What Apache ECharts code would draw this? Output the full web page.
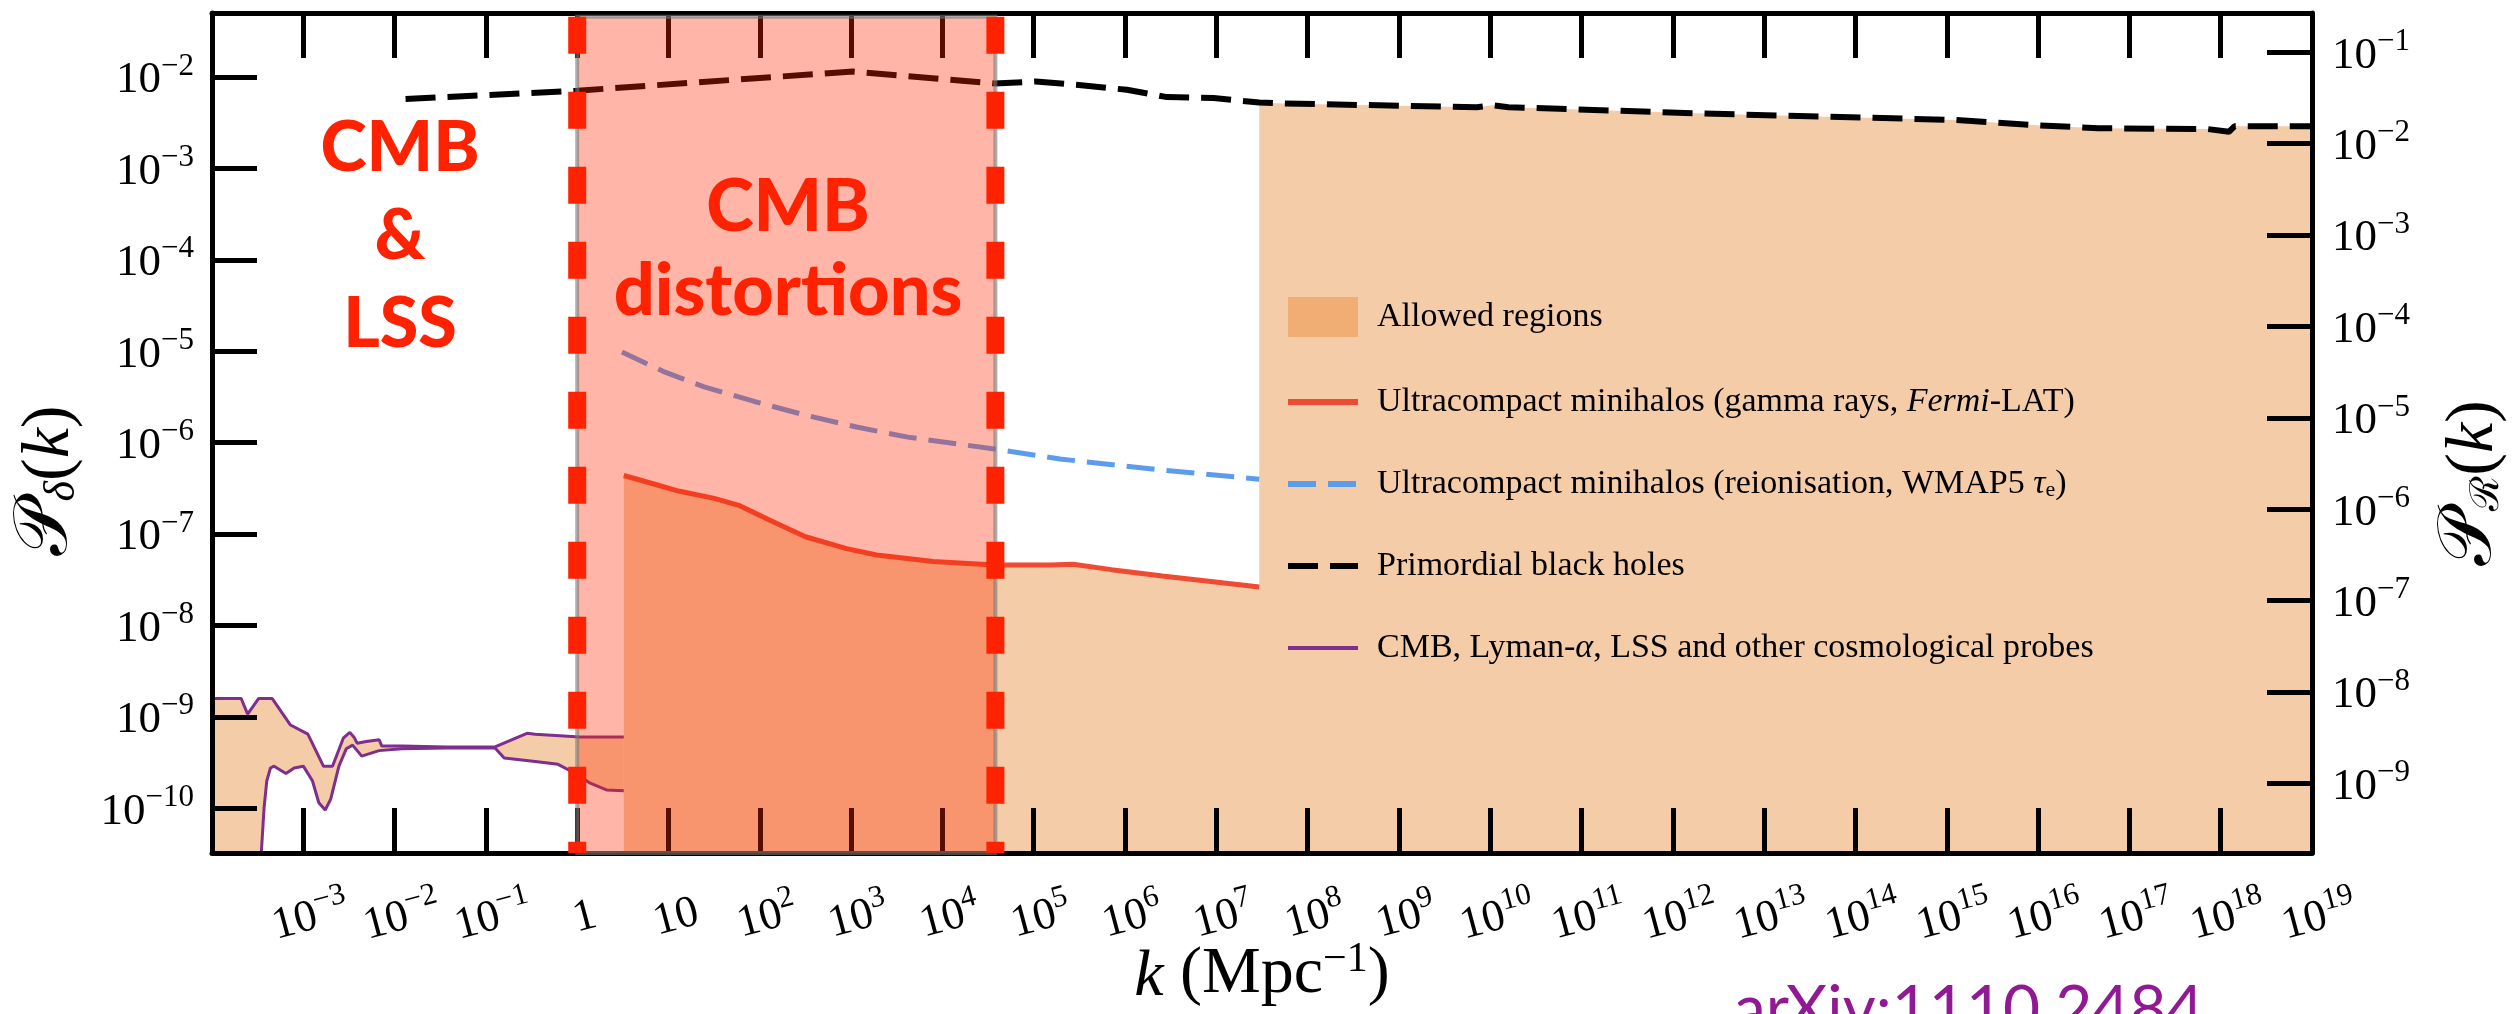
<!DOCTYPE html>
<html>
<head>
<meta charset="utf-8">
<title>Primordial power spectrum constraints</title>
<script src="https://cdn.jsdelivr.net/npm/echarts@6/dist/echarts.min.js"></script>
<style>
html, body { margin: 0; padding: 0; background: #fff; }
#main { width: 2519px; height: 1014px; }
</style>
</head>
<body>
<div id="main"></div>
<script>
var chart = echarts.init(document.getElementById('main'));

// every value below is a log10: x = log10(k / Mpc^-1), y = log10(P_delta(k))
var X_MIN = -4, X_MAX = 19;
var Y_MIN = -10.49, Y_MAX = -1.30;
var R_SHIFT = 0.73; // right axis P_R sits this many decades above P_delta

// CMB, Lyman-alpha, LSS ... (upper and lower bounds)
var cmbUpperX = [-4, -3.68, -3.61, -3.49, -3.34, -3.14, -2.95, -2.78, -2.68, -2.56, -2.49, -2.44, -2.41, -2.31, -2.17, -2.14, -1.92, -1.43, -0.90, -0.55, -0.46, 0.03, 0.51];
var cmbUpperY = [-8.80, -8.80, -8.97, -8.80, -8.80, -9.09, -9.19, -9.54, -9.54, -9.23, -9.17, -9.23, -9.29, -9.27, -9.25, -9.32, -9.32, -9.33, -9.33, -9.18, -9.19, -9.22, -9.22];
var cmbLowerX = [-3.46, -3.43, -3.40, -3.36, -3.32, -3.19, -3.10, -3.00, -2.90, -2.83, -2.76, -2.70, -2.61, -2.53, -2.46, -2.36, -2.17, -1.92, -1.43, -0.90, -0.80, -0.46, -0.21, -0.02, 0.13, 0.32, 0.51];
var cmbLowerY = [-10.49, -10.0, -9.70, -9.56, -9.54, -9.62, -9.56, -9.54, -9.70, -9.94, -10.02, -9.90, -9.54, -9.35, -9.31, -9.43, -9.37, -9.35, -9.34, -9.34, -9.45, -9.49, -9.52, -9.62, -9.72, -9.80, -9.81];

// Ultracompact minihalos, gamma rays (Fermi-LAT)
var gammaX = [0.51, 0.83, 1.11, 1.50, 1.78, 2.11, 2.50, 2.95, 3.28, 3.90, 4.57, 5.18, 5.43, 5.85, 6.41, 7.47];
var gammaY = [-6.36, -6.45, -6.53, -6.61, -6.69, -6.85, -7.03, -7.16, -7.23, -7.30, -7.34, -7.34, -7.33, -7.39, -7.46, -7.58];

// Ultracompact minihalos, reionisation (WMAP5)
var reionX = [0.49, 0.94, 1.39, 1.94, 2.50, 3.06, 3.62, 4.57, 5.29, 6.41, 7.47];
var reionY = [-5.01, -5.22, -5.39, -5.55, -5.70, -5.83, -5.94, -6.07, -6.18, -6.30, -6.40];

// Primordial black holes
var pbhX = [-1.88, 0, 3.02, 4.57, 5.02, 5.52, 6.02, 6.46, 6.97, 7.47, 7.73, 9.85, 10.03, 10.2, 12.33, 15.1, 16.02, 16.66, 17.86, 18.09, 18.15, 19];
var pbhY = [-2.24, -2.15, -1.94, -2.07, -2.05, -2.09, -2.14, -2.22, -2.23, -2.28, -2.29, -2.33, -2.31, -2.33, -2.40, -2.47, -2.53, -2.56, -2.57, -2.60, -2.54, -2.54];

// CMB distortions band
var bandX = [0, 4.58];
var BAND_TOP = -1.34;

var decadeTicks = [-10, -9, -8, -7, -6, -5, -4, -3, -2];
var decadeTicksR = [-9, -8, -7, -6, -5, -4, -3, -2, -1];

function pairs(xs, ys) {
    return xs.map(function (x, i) { return [x, ys[i]]; });
}

// allowed regions as polygons
var cmbShape = pairs(cmbUpperX, cmbUpperY)
    .concat(pairs(cmbLowerX, cmbLowerY).reverse())
    .concat([[cmbUpperX[0], Y_MIN]]);
var smallScaleShape = pairs(gammaX, gammaY)
    .concat(pairs(pbhX, pbhY).filter(function (p) { return p[0] >= gammaX[gammaX.length - 1]; }))
    .concat([[X_MAX, Y_MIN], [gammaX[0], Y_MIN]]);
var allowedShapes = [cmbShape, smallScaleShape];

function powLabel(v) {
    var n = Math.round(v);
    if (n === 0) return '{b|1}';
    if (n === 1) return '{b|10}';
    return '{b|10}{s|' + (n < 0 ? '\u2212' + (-n) : n) + '}';
}

var SERIF = 'Liberation Serif';
var tickRich = {
    b: { fontSize: 45, fontFamily: SERIF, color: '#000', lineHeight: 52, verticalAlign: 'bottom' },
    s: { fontSize: 31, fontFamily: SERIF, color: '#000', lineHeight: 30, verticalAlign: 'top' }
};

var legendNames = {
    'Ultracompact minihalos (gamma rays, Fermi-LAT)': 'Ultracompact minihalos (gamma rays, {i|Fermi}-LAT)',
    'Ultracompact minihalos (reionisation, WMAP5 \u03c4e)': 'Ultracompact minihalos (reionisation, WMAP5 {i|\u03c4}{sub|e})',
    'CMB, Lyman-\u03b1, LSS and other cosmological probes': 'CMB, Lyman-{i|\u03b1}, LSS and other cosmological probes'
};

var axisLineStyle = { color: '#000', width: 5 };
var tickStyle = { show: true, inside: true, length: 45, lineStyle: { color: '#000', width: 5 } };

var nameRich = {
    p: { fontFamily: 'DejaVu Serif', fontSize: 76, color: '#000', lineHeight: 84, verticalAlign: 'bottom' },
    sub: { fontFamily: SERIF, fontSize: 44, fontStyle: 'italic', color: '#000', lineHeight: 40, verticalAlign: 'bottom' },
    subR: { fontFamily: 'DejaVu Serif', fontSize: 40, color: '#000', lineHeight: 40, verticalAlign: 'bottom' },
    n: { fontFamily: SERIF, fontSize: 68, color: '#000', lineHeight: 84, verticalAlign: 'bottom' },
    i: { fontFamily: SERIF, fontSize: 68, fontStyle: 'italic', color: '#000', lineHeight: 84, verticalAlign: 'bottom' }
};

var option = {
    animation: false,
    backgroundColor: '#fff',
    grid: { left: 212, right: 207, top: 13, bottom: 161, containLabel: false, outerBoundsMode: 'none' },
    xAxis: [{
        type: 'value',
        position: 'bottom',
        min: X_MIN,
        max: X_MAX,
        interval: 1,
        z: 3,
        axisLine: { show: true, onZero: false, lineStyle: axisLineStyle },
        axisTick: tickStyle,
        splitLine: { show: false },
        axisLabel: {
            interval: 0,
            hideOverlap: false,
            rotate: 15,
            align: 'center',
            verticalAlign: 'top',
            margin: 36,
            formatter: function (v) { return v === X_MIN ? '' : powLabel(v); },
            rich: tickRich
        },
        name: '{i|k} (Mpc{s|\u22121})',
        nameLocation: 'middle',
        nameMoveOverlap: false,
        nameGap: 86,
        nameTextStyle: {
            fontFamily: SERIF, fontSize: 66, color: '#000',
            rich: {
                i: { fontFamily: SERIF, fontSize: 66, fontStyle: 'italic', lineHeight: 72, verticalAlign: 'bottom' },
                s: { fontFamily: SERIF, fontSize: 42, lineHeight: 40, verticalAlign: 'top' }
            }
        }
    }, {
        type: 'value',
        position: 'top',
        min: X_MIN,
        max: X_MAX,
        interval: 1,
        z: 3,
        axisLine: { show: true, onZero: false, lineStyle: axisLineStyle },
        axisTick: tickStyle,
        axisLabel: { show: false },
        splitLine: { show: false }
    }],
    yAxis: [{
        type: 'value',
        position: 'left',
        min: Y_MIN,
        max: Y_MAX,
        z: 3,
        axisLine: { show: true, onZero: false, lineStyle: axisLineStyle },
        axisTick: { show: true, inside: true, length: 45, lineStyle: { color: '#000', width: 5 }, customValues: decadeTicks },
        axisLabel: { customValues: decadeTicks, margin: 18, formatter: powLabel, rich: tickRich },
        splitLine: { show: false },
        name: '{p|\ud835\udcab}{sub|\u03b4}{n|(}{i|k}{n|)}',
        nameLocation: 'middle',
        nameRotate: 90,
        nameGap: 128,
        nameTextStyle: { rich: nameRich, padding: [0, 96, 0, 0] }
    }, {
        type: 'value',
        position: 'right',
        min: Y_MIN + R_SHIFT,
        max: Y_MAX + R_SHIFT,
        z: 3,
        axisLine: { show: true, onZero: false, lineStyle: axisLineStyle },
        axisTick: { show: true, inside: true, length: 45, lineStyle: { color: '#000', width: 5 }, customValues: decadeTicksR },
        axisLabel: { customValues: decadeTicksR, margin: 20, formatter: powLabel, rich: tickRich },
        splitLine: { show: false },
        name: '{p|\ud835\udcab}{subR|\u211b}{n|(}{i|k}{n|)}',
        nameLocation: 'middle',
        nameRotate: 90,
        nameGap: 112,
        nameTextStyle: { rich: nameRich, padding: [0, 100, 0, 0] }
    }],
    legend: {
        orient: 'vertical',
        left: 1280,
        top: 292,
        itemWidth: 70,
        itemHeight: 40,
        itemGap: 48,
        itemStyle: { color: 'rgba(0,0,0,0)', borderWidth: 0 },
        formatter: function (name) { return legendNames[name] || name; },
        textStyle: {
            fontFamily: SERIF, fontSize: 34, color: '#000', padding: [0, 0, 0, 14],
            rich: {
                i: { fontFamily: SERIF, fontSize: 34, fontStyle: 'italic', color: '#000' },
                sub: { fontFamily: SERIF, fontSize: 22, color: '#000', verticalAlign: 'bottom', lineHeight: 16 }
            }
        },
        data: [
            { name: 'Allowed regions', icon: 'rect', itemStyle: { color: '#F0AE74' } },
            { name: 'Ultracompact minihalos (gamma rays, Fermi-LAT)', lineStyle: { width: 6 } },
            { name: 'Ultracompact minihalos (reionisation, WMAP5 \u03c4e)', lineStyle: { width: 6 } },
            { name: 'Primordial black holes', lineStyle: { width: 6 } },
            { name: 'CMB, Lyman-\u03b1, LSS and other cosmological probes', lineStyle: { width: 4 } }
        ]
    },
    series: [{
        name: 'Allowed regions',
        type: 'custom',
        z: 1,
        itemStyle: { color: '#F5CCA8' },
        data: allowedShapes.map(function (s, i) { return [i, -5]; }),
        renderItem: function (params, api) {
            var pts = allowedShapes[params.dataIndex].map(function (p) { return api.coord(p); });
            return { type: 'polygon', shape: { points: pts }, style: { fill: '#F5CCA8' } };
        }
    }, {
        name: 'CMB, Lyman-\u03b1, LSS and other cosmological probes',
        type: 'line',
        z: 2,
        symbol: 'none',
        data: pairs(cmbUpperX, cmbUpperY),
        lineStyle: { color: '#7E2E8C', width: 3 },
        itemStyle: { color: '#7E2E8C' }
    }, {
        name: 'CMB, Lyman-\u03b1, LSS and other cosmological probes',
        type: 'line',
        z: 2,
        symbol: 'none',
        data: pairs(cmbLowerX, cmbLowerY),
        lineStyle: { color: '#7E2E8C', width: 3 },
        itemStyle: { color: '#7E2E8C' }
    }, {
        name: 'Ultracompact minihalos (gamma rays, Fermi-LAT)',
        type: 'line',
        z: 2,
        symbol: 'none',
        data: pairs(gammaX, gammaY),
        lineStyle: { color: '#EF4A32', width: 5 },
        itemStyle: { color: '#EF4A32' }
    }, {
        name: 'Ultracompact minihalos (reionisation, WMAP5 \u03c4e)',
        type: 'line',
        z: 2,
        symbol: 'none',
        data: pairs(reionX, reionY),
        lineStyle: { color: '#5D9CEC', width: 5, type: [28, 12] },
        itemStyle: { color: '#5D9CEC' }
    }, {
        name: 'Primordial black holes',
        type: 'line',
        z: 2,
        symbol: 'none',
        data: pairs(pbhX, pbhY),
        lineStyle: { color: '#000', width: 6, type: [30, 12] },
        itemStyle: { color: '#000' }
    }, {
        name: 'CMB distortions',
        type: 'custom',
        z: 5,
        data: [bandX],
        renderItem: function (params, api) {
            var p0 = api.coord([api.value(0), Y_MIN]);
            var p1 = api.coord([api.value(1), BAND_TOP]);
            return {
                type: 'rect',
                shape: { x: p0[0], y: p1[1], width: p1[0] - p0[0], height: p0[1] - p1[1] },
                style: { fill: 'rgba(255,40,0,0.34)', stroke: 'rgba(120,120,120,0.6)', lineWidth: 4 }
            };
        }
    }, {
        name: 'band edge low',
        type: 'line',
        z: 6,
        symbol: 'none',
        data: [[bandX[0], BAND_TOP], [bandX[0], Y_MIN]],
        lineStyle: { color: '#FF2200', width: 18, type: [37, 38] }
    }, {
        name: 'band edge high',
        type: 'line',
        z: 6,
        symbol: 'none',
        data: [[bandX[1], BAND_TOP], [bandX[1], Y_MIN]],
        lineStyle: { color: '#FF2200', width: 18, type: [37, 38] }
    }],
    graphic: [{
        type: 'text',
        x: 400,
        y: 236,
        z: 10,
        style: {
            text: 'CMB\n&\nLSS',
            fill: '#FF2200',
            font: '900 70px Lato',
            lineHeight: 88,
            align: 'center',
            verticalAlign: 'middle'
        }
    }, {
        type: 'text',
        x: 788,
        y: 250,
        z: 10,
        style: {
            text: 'CMB\ndistortions',
            fill: '#FF2200',
            font: '900 72px Lato',
            lineHeight: 84,
            align: 'center',
            verticalAlign: 'middle'
        }
    }, {
        type: 'text',
        x: 1734,
        y: 1010,
        z: 10,
        style: {
            text: 'arXiv:1110.2484',
            fill: '#911996',
            font: '64px Lato',
            align: 'left',
            verticalAlign: 'middle'
        }
    }]
};

chart.setOption(option);
</script>
</body>
</html>
